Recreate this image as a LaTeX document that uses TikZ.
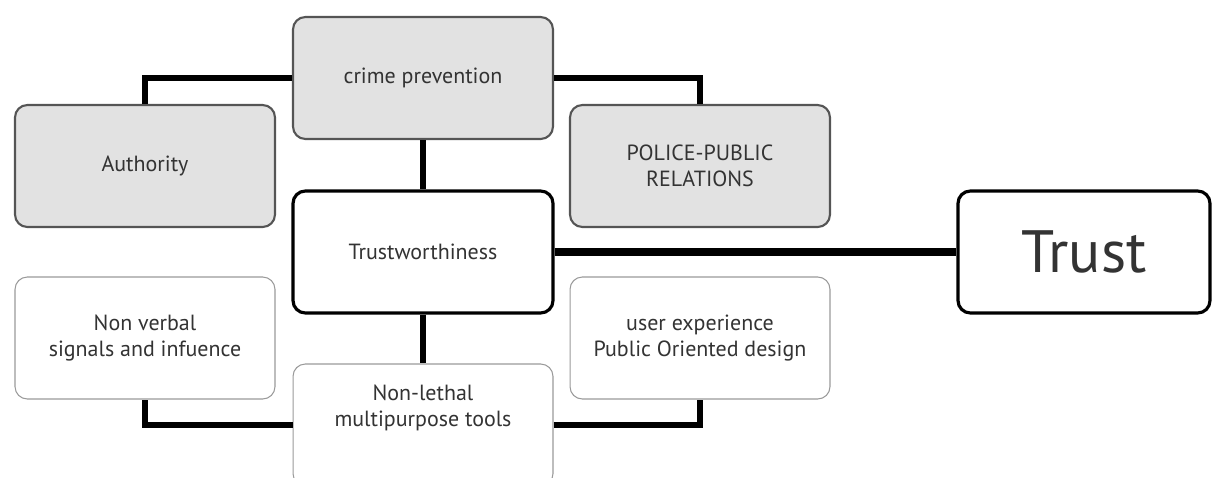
\documentclass[tikz,border=0pt]{standalone}
\usepackage{fontspec}
\setmainfont{PT Sans}
\definecolor{boxgray}{HTML}{E2E2E2}
\definecolor{edgegray}{HTML}{555555}
\definecolor{thingray}{HTML}{9A9A9A}
\definecolor{textgray}{HTML}{333333}

\begin{document}
\begin{tikzpicture}[x=0.02cm,y=-0.02cm,
  graybox/.style={draw=edgegray,line width=1.2pt,fill=boxgray,rounded corners=7pt,
    minimum width=5.2cm,minimum height=2.44cm,align=center,text=textgray,font=\fontsize{12.5}{15}\selectfont},
  whitebox/.style={draw=thingray,line width=0.6pt,fill=white,rounded corners=7pt,
    minimum width=5.2cm,minimum height=2.44cm,align=center,text=textgray,font=\fontsize{12.5}{15}\selectfont},
  mainbox/.style={draw=black,line width=1.8pt,fill=white,rounded corners=7pt,
    minimum width=5.2cm,minimum height=2.44cm,align=center,text=textgray,font=\fontsize{12.5}{15}\selectfont},
  link/.style={line width=3.2pt,black}]
\useasboundingbox (0,0) rectangle (1213,477);
\clip (0,0) rectangle (1213,477);

\node[graybox](crime) at (423,78) {crime prevention};
\node[graybox](authority) at (145,166) {Authority};
\node[graybox](police) at (700,166) {POLICE-PUBLIC\\RELATIONS};
\node[mainbox](trustw) at (423,252) {Trustworthiness};
\node[mainbox,minimum width=5.04cm,font=\fontsize{34}{38}\selectfont](trust) at (1084,252) {Trust};
\node[whitebox](nonverbal) at (145,338) {Non verbal\\signals and infuence};
\node[whitebox](userexp) at (700,338) {user experience\\Public Oriented design};
\node[whitebox,text depth=22pt](nonlethal) at (423,425) {Non-lethal\\multipurpose tools};

\draw[link] (crime.west) -| (authority.north);
\draw[link] (crime.east) -| (police.north);
\draw[link] (crime.south) -- (trustw.north);
\draw[link,line width=4pt] (trustw.east) -- (trust.west);
\draw[link] (trustw.south) -- (nonlethal.north);
\draw[link] (nonlethal.west) -| (nonverbal.south);
\draw[link] (nonlethal.east) -| (userexp.south);
\end{tikzpicture}
\end{document}
